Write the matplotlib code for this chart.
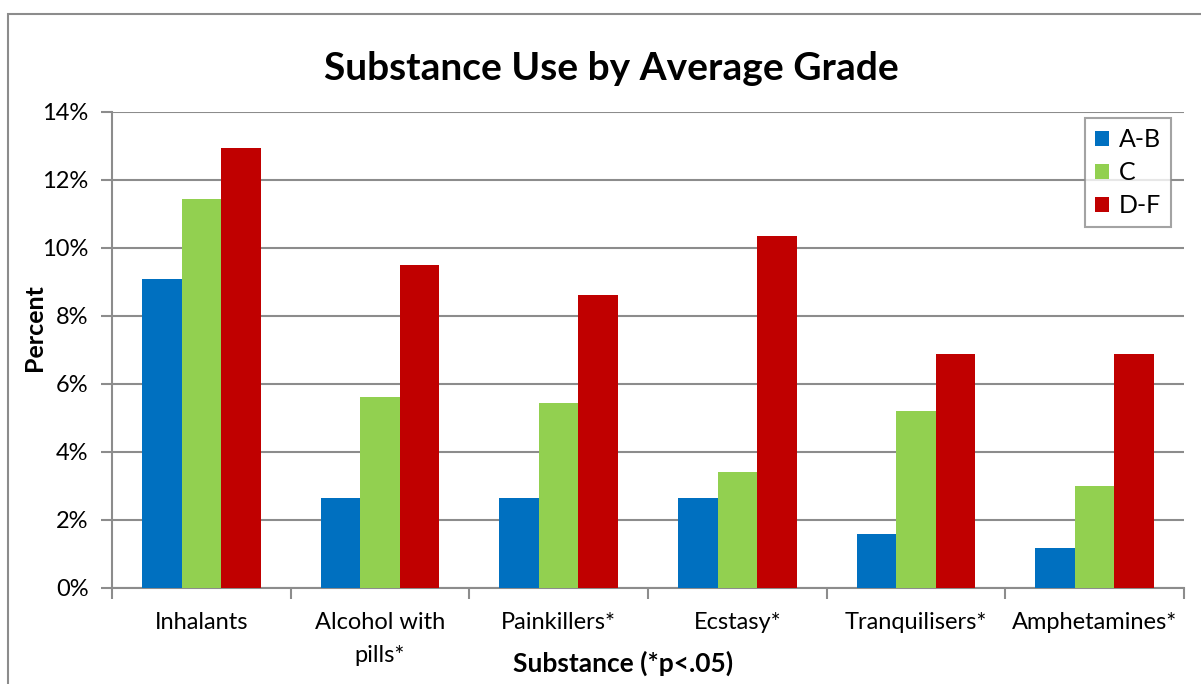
import matplotlib
matplotlib.use("Agg")
import matplotlib.pyplot as plt
import numpy as np
from matplotlib.patches import Rectangle
from matplotlib.ticker import FixedLocator, FuncFormatter

categories = ["Inhalants", "Alcohol with\npills*", "Painkillers*", "Ecstasy*",
              "Tranquilisers*", "Amphetamines*"]
series_names = ["A-B", "C", "D-F"]
ab_vals = [9.1, 2.65, 2.65, 2.65, 1.58, 1.18]
c_vals = [11.45, 5.62, 5.44, 3.41, 5.21, 3.01]
df_vals = [12.94, 9.5, 8.62, 10.35, 6.88, 6.88]
colors = ["#0070C0", "#92D050", "#C00000"]

FONT = "Lato"
GRID = "#8C8C8C"

fig = plt.figure(figsize=(12.01, 6.84), dpi=100)
W, H = 1201, 684
ax = fig.add_axes([112 / W, 1 - 588 / H, (1184 - 112) / W, (588 - 112) / H])

# outer chart border
fig.patches.append(Rectangle((8 / W, -0.1), 1.2, 1 - 14 / H + 0.1,
                             transform=fig.transFigure, fill=False,
                             edgecolor="#8C8C8C", linewidth=1.5))

x = np.arange(len(categories))
bw = 0.221
for i, (vals, name, col) in enumerate(zip([ab_vals, c_vals, df_vals], series_names, colors)):
    ax.bar(x + (i - 1) * bw, vals, width=bw, color=col, label=name, zorder=3,
           edgecolor="none")

ax.set_xlim(-0.5, len(categories) - 0.5)
ax.set_ylim(0, 14)
ax.yaxis.set_major_locator(FixedLocator(np.arange(0, 15, 2)))
ax.yaxis.set_major_formatter(FuncFormatter(lambda v, p: f"{int(v)}%"))
ax.grid(axis="y", color=GRID, linewidth=1.5, zorder=0)
ax.set_axisbelow(True)

ax.set_xticks(x)
ax.set_xticklabels(categories, fontsize=17, fontname=FONT, linespacing=1.7)
ax.set_xticks(np.arange(-0.5, len(categories), 1), minor=True)
ax.tick_params(axis="x", which="major", length=0, pad=17)
ax.tick_params(axis="x", which="minor", length=8, width=1.5, color=GRID, direction="out")
ax.tick_params(axis="y", length=8, width=1.5, color=GRID, direction="out", pad=9)
for lab in ax.get_yticklabels():
    lab.set_fontsize(17)
    lab.set_fontname(FONT)

for s in ["top", "right"]:
    ax.spines[s].set_visible(False)
for s in ["left", "bottom"]:
    ax.spines[s].set_color(GRID)
    ax.spines[s].set_linewidth(1.5)

fig.text(35 / W, 1 - 328 / H, "Percent", fontsize=18, fontweight="bold",
         fontname=FONT, rotation=90, ha="center", va="center")
fig.text(623 / W, 1 - 663 / H, "Substance (*p<.05)", fontsize=19,
         fontweight="bold", fontname=FONT, ha="center", va="center")
fig.text(611 / W, 1 - 68 / H, "Substance Use by Average Grade", fontsize=28,
         fontweight="bold", fontname=FONT, ha="center", va="center")

leg = ax.legend(loc="upper right", bbox_to_anchor=(1171 / W, 1 - 118 / H),
                bbox_transform=fig.transFigure, frameon=True, fancybox=False,
                prop={"family": FONT, "size": 18}, handlelength=0.55,
                handleheight=0.55, handletextpad=0.4, labelspacing=0.4,
                borderpad=0.4, borderaxespad=0)
leg.get_frame().set_edgecolor(GRID)
leg.get_frame().set_linewidth(1.5)

fig.savefig("out.png", dpi=100)
